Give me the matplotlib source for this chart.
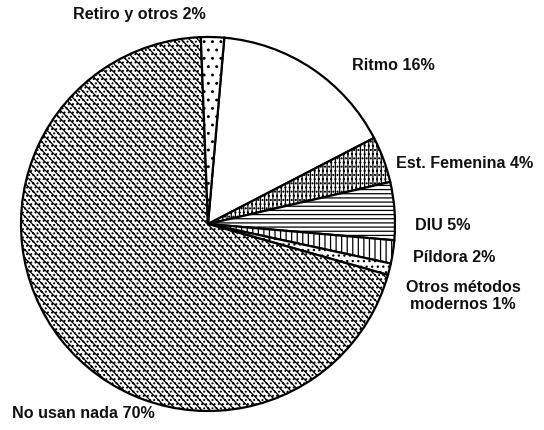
import matplotlib
matplotlib.use("Agg")
import matplotlib.pyplot as plt

categories = ["Ritmo", "Est. Femenina", "DIU", "Píldora",
              "Otros métodos\nmodernos", "No usan nada", "Retiro y otros"]
values = [16, 4, 5, 2, 1, 70, 2]
labels = ["Ritmo 16%", "Est. Femenina 4%", "DIU 5%", "Píldora 2%",
          "Otros métodos\nmodernos 1%", "No usan nada 70%", "Retiro y otros 2%"]

hatches = ["", "||||....", "----", "|||", "...", "\\\\\\\\....", ".."]

W, H = 544, 430
fig = plt.figure(figsize=(W / 100, H / 100), dpi=100)
ax = fig.add_axes([0, 0, 1, 1])
plt.rcParams['hatch.linewidth'] = 0.9

cx, cy, r = 208, H - 224, 187
wedges, _ = ax.pie(values, startangle=85, counterclock=False,
                   center=(cx, cy), radius=r,
                   wedgeprops=dict(facecolor="white", edgecolor="black", linewidth=1.6))
for w, h in zip(wedges, hatches):
    w.set_hatch(h)

ax.set_xlim(0, W)
ax.set_ylim(0, H)
ax.set_aspect("equal")
ax.axis("off")

fs = 11.6
kw = dict(fontsize=fs, family="Liberation Sans", fontweight="bold",
          color="#111111", va="center")
ax.text(73, H - 15, labels[6], ha="left", **kw)
ax.text(352, H - 65, labels[0], ha="left", **kw)
ax.text(396, H - 163, labels[1], ha="left", **kw)
ax.text(415, H - 226, labels[2], ha="left", **kw)
ax.text(413, H - 258, labels[3], ha="left", **kw)
ax.text(463, H - 296, labels[4], ha="center", linespacing=1.15, **kw)
ax.text(12, H - 413, labels[5], ha="left", **kw)

fig.savefig("out.png", dpi=100)
